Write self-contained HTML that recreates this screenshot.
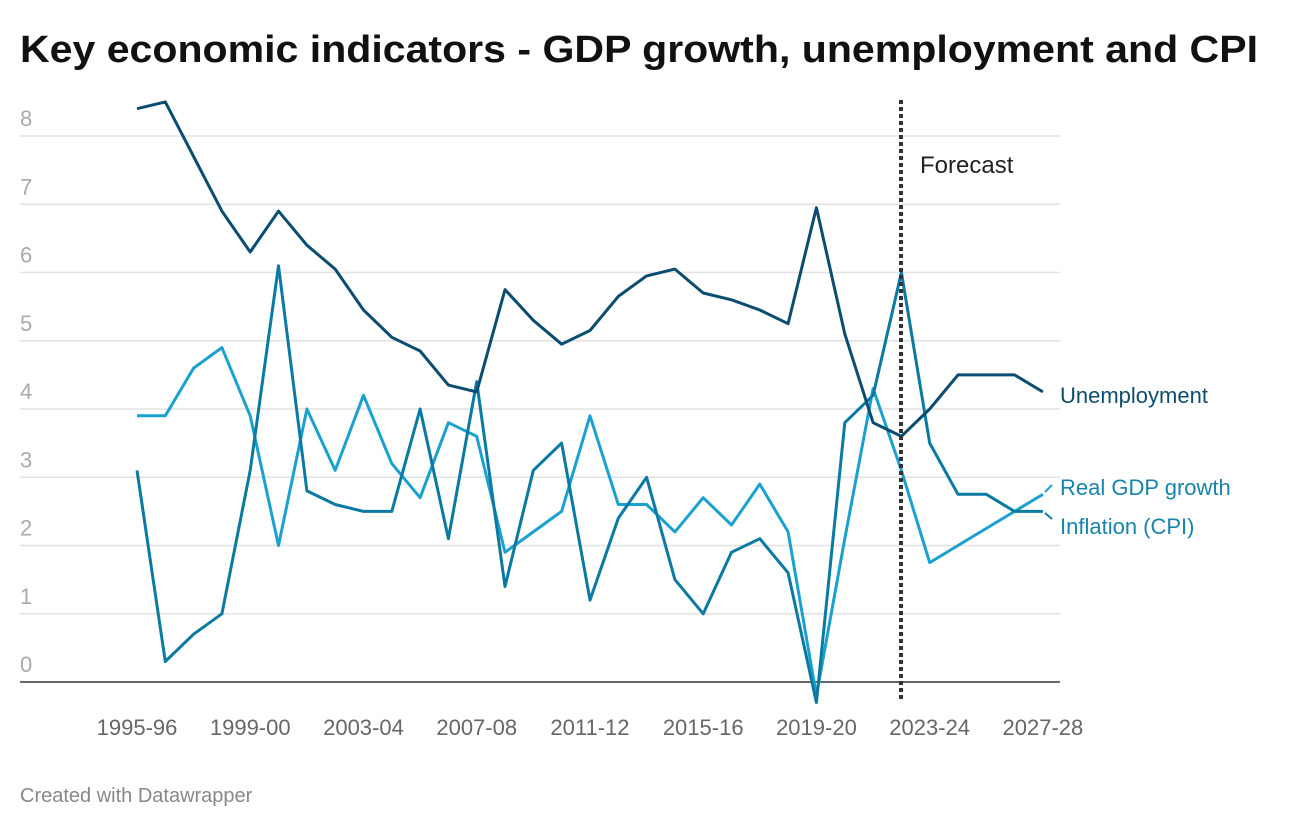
<!DOCTYPE html>
<html><head><meta charset="utf-8">
<style>
body{margin:0;background:#fff;width:1300px;height:828px;overflow:hidden;font-family:"Liberation Sans",sans-serif}
</style></head>
<body>
<svg id="s" width="1300" height="828" xmlns="http://www.w3.org/2000/svg" font-family="Liberation Sans, sans-serif">
<text x="20" y="62" font-size="38" font-weight="bold" fill="#111" textLength="1238" lengthAdjust="spacingAndGlyphs">Key economic indicators - GDP growth, unemployment and CPI</text>
<g id="grid"></g>
<g id="lines"></g>
<line x1="901" y1="100" x2="901" y2="702" stroke="#333" stroke-width="4" stroke-dasharray="4 3"/>
<text x="920" y="173" font-size="24" fill="#222">Forecast</text>
<text x="1060" y="403" font-size="22" fill="#0f4d6e">Unemployment</text>
<text x="1060" y="495" font-size="22" fill="#1784ad">Real GDP growth</text>
<text x="1060" y="534" font-size="22" fill="#1784ad">Inflation (CPI)</text>
<line x1="1045" y1="492" x2="1052" y2="485" stroke="#1ba1cf" stroke-width="2"/>
<line x1="1045" y1="513" x2="1052" y2="519" stroke="#0b7aa3" stroke-width="2"/>
<text x="20" y="802" font-size="20" fill="#888">Created with Datawrapper</text>
</svg>
<script>
const NS="http://www.w3.org/2000/svg";
const g=document.getElementById('grid'),L=document.getElementById('lines');
function el(p,t,a,txt){const e=document.createElementNS(NS,t);for(const k in a)e.setAttribute(k,a[k]);if(txt!==undefined)e.textContent=txt;p.appendChild(e);return e;}
const Y=v=>682-68.25*v, X=i=>137+28.31*i;
for(let v=1;v<=8;v++){el(g,'line',{x1:20,x2:1060,y1:Y(v),y2:Y(v),stroke:'#e2e2e2','stroke-width':1.5});}
for(let v=0;v<=8;v++){el(g,'text',{x:20,y:Y(v)-10,'font-size':22,fill:'#aaa'},String(v));}
el(g,'line',{x1:20,x2:1060,y1:682,y2:682,stroke:'#333','stroke-width':1.5});
const labs=['1995-96','1999-00','2003-04','2007-08','2011-12','2015-16','2019-20','2023-24','2027-28'];
labs.forEach((t,k)=>el(g,'text',{x:X(k*4),y:735,'font-size':22,fill:'#666','text-anchor':'middle'},t));
const U=[8.4,8.5,7.7,6.9,6.3,6.9,6.4,6.05,5.45,5.05,4.85,4.35,4.25,5.75,5.3,4.95,5.15,5.65,5.95,6.05,5.7,5.6,5.45,5.25,6.95,5.1,3.8,3.6,4.0,4.5,4.5,4.5,4.25];
const G=[3.9,3.9,4.6,4.9,3.9,2.0,4.0,3.1,4.2,3.2,2.7,3.8,3.6,1.9,2.2,2.5,3.9,2.6,2.6,2.2,2.7,2.3,2.9,2.2,-0.2,2.1,4.3,3.1,1.75,2.0,2.25,2.5,2.75];
const C=[3.1,0.3,0.7,1.0,3.1,6.1,2.8,2.6,2.5,2.5,4.0,2.1,4.4,1.4,3.1,3.5,1.2,2.4,3.0,1.5,1.0,1.9,2.1,1.6,-0.3,3.8,4.2,6.0,3.5,2.75,2.75,2.5,2.5];
function line(d,c){el(L,'polyline',{points:d.map((v,i)=>X(i).toFixed(1)+','+Y(v).toFixed(1)).join(' '),fill:'none',stroke:c,'stroke-width':3,'stroke-linejoin':'round'});}
line(G,'#1ba1cf');line(C,'#0b7aa3');line(U,'#0b4d70');
</script>
</body></html>
